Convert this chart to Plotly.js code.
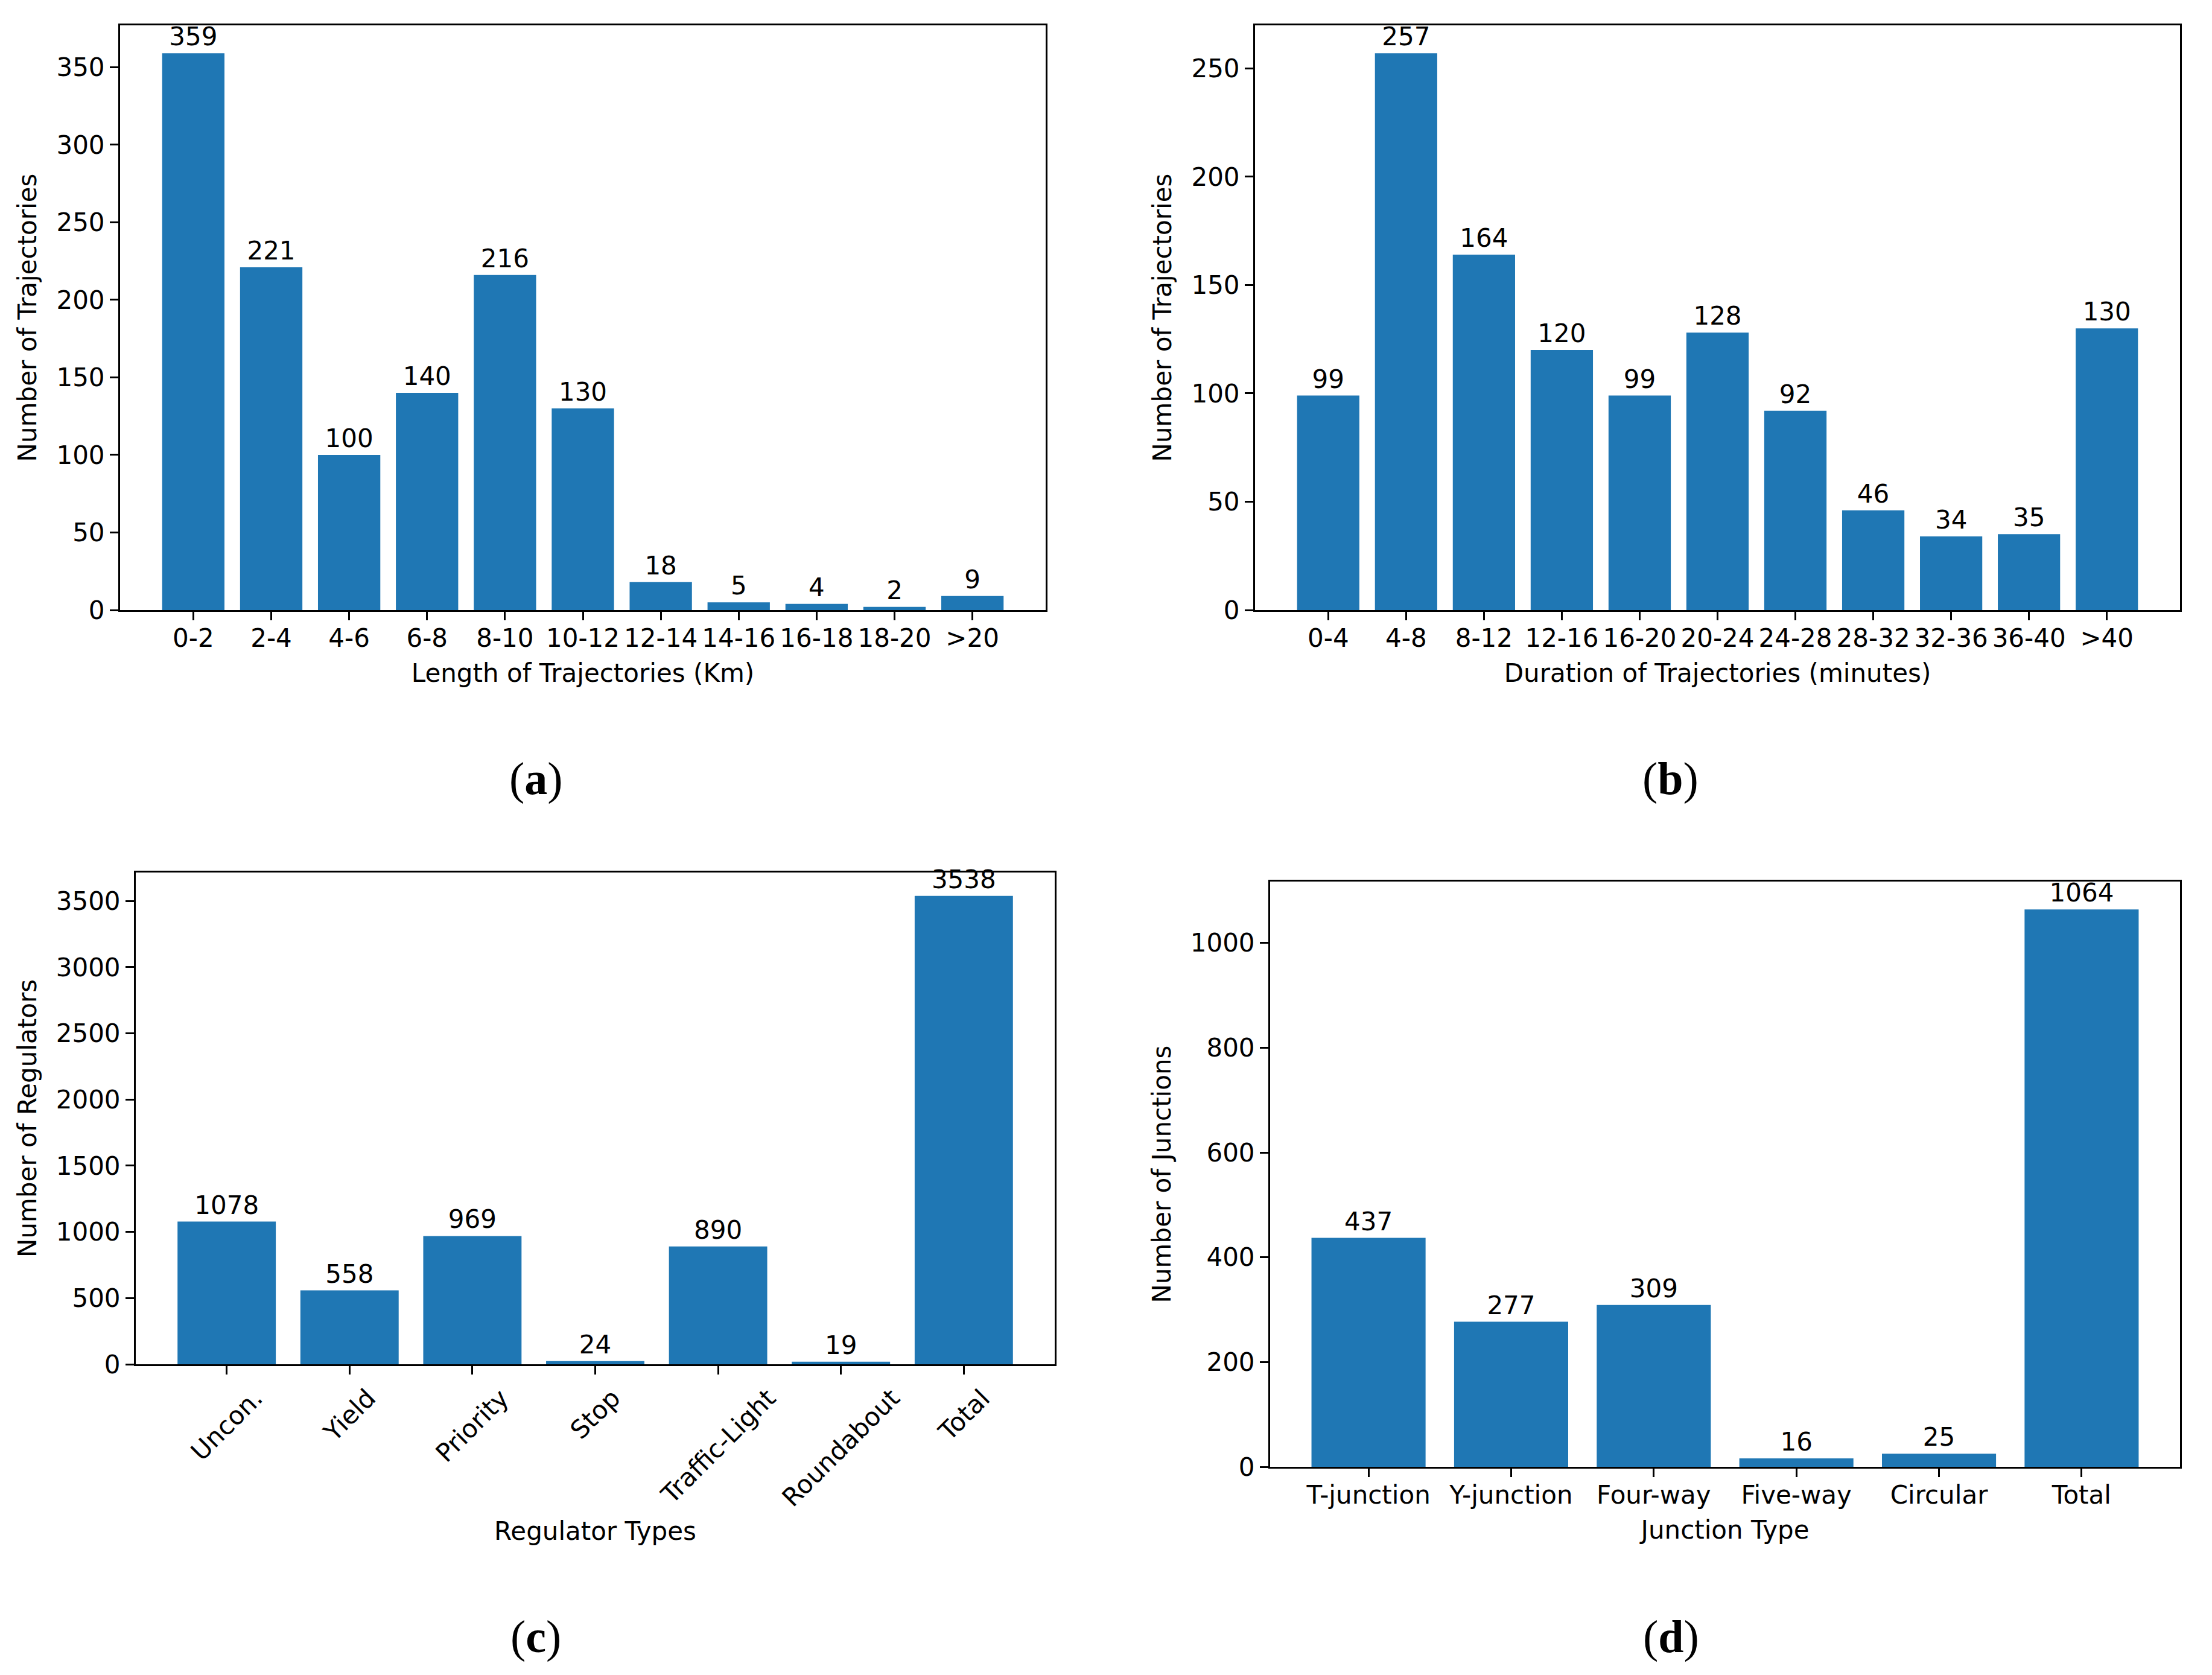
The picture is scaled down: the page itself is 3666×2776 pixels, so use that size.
<!DOCTYPE html>
<html>
<head>
<meta charset="utf-8">
<script src="https://cdn.plot.ly/plotly-3.0.1.min.js"></script>
<style>html,body{margin:0;padding:0;background:#fff;}#chart{width:3666px;height:2776px;}</style>
</head>
<body>
<div id="chart"></div>
<script>
// ---- data ----
const lengthCats = ["0-2","2-4","4-6","6-8","8-10","10-12","12-14","14-16","16-18","18-20",">20"];
const lengthVals = [359,221,100,140,216,130,18,5,4,2,9];
const durationCats = ["0-4","4-8","8-12","12-16","16-20","20-24","24-28","28-32","32-36","36-40",">40"];
const durationVals = [99,257,164,120,99,128,92,46,34,35,130];
const regulatorCats = ["Uncon.","Yield","Priority","Stop","Traffic-Light","Roundabout","Total"];
const regulatorVals = [1078,558,969,24,890,19,3538];
const junctionCats = ["T-junction","Y-junction","Four-way","Five-way","Circular","Total"];
const junctionVals = [437,277,309,16,25,1064];

const FONT = "DejaVu Sans";
const FS = 42;
const BLUE = "#1f77b4";
const W = 3666, H = 2776;

function barTrace(cats, vals, xa, ya) {
  return {
    type: "bar", x: cats, y: vals, xaxis: xa, yaxis: ya,
    width: 0.8,
    marker: {color: BLUE, line: {width: 0}},
    text: vals.map(String), textposition: "outside", cliponaxis: false,
    constraintext: "none",
    textfont: {family: FONT, size: FS, color: "#000"},
    hoverinfo: "skip", showlegend: false
  };
}

const traces = [
  barTrace(lengthCats, lengthVals, "x", "y"),
  barTrace(durationCats, durationVals, "x2", "y2"),
  barTrace(regulatorCats, regulatorVals, "x3", "y3"),
  barTrace(junctionCats, junctionVals, "x4", "y4")
];

function px2x(a, b) { return [a / W, b / W]; }
function px2y(top, bottom) { return [1 - bottom / H, 1 - top / H]; }

function xAxis(domain, n, title, anchor, opts) {
  const o = {
    domain: domain, anchor: anchor, type: "category",
    range: [-0.4 - 0.05 * (n - 0.2), n - 0.6 + 0.05 * (n - 0.2)],
    showline: true, mirror: true, linewidth: 3, linecolor: "#000",
    ticks: "outside", ticklen: 14, tickwidth: 3, tickcolor: "#000",
    ticklabelstandoff: -6,
    showgrid: false, zeroline: false, fixedrange: true,
    tickfont: {family: FONT, size: FS, color: "#000"},
    title: {text: title, font: {family: FONT, size: FS, color: "#000"}, standoff: 20}
  };
  return Object.assign(o, opts || {});
}
function yAxis(domain, maxV, dtick, title, anchor) {
  return {
    domain: domain, anchor: anchor, range: [0, maxV * 1.05], dtick: dtick, tick0: 0,
    showline: true, mirror: true, linewidth: 3, linecolor: "#000",
    ticks: "outside", ticklen: 14, tickwidth: 3, tickcolor: "#000",
    showgrid: false, zeroline: false, fixedrange: true,
    tickfont: {family: FONT, size: FS, color: "#000"},
    title: {text: title, font: {family: FONT, size: FS, color: "#000"}, standoff: 20}
  };
}

const annotations = [];
// rotated tick labels for panel (c)
regulatorCats.forEach(function (c) {
  annotations.push({
    x: c, xref: "x3", y: 1 - 2290 / H, yref: "paper",
    text: c, textangle: -45, showarrow: false,
    xanchor: "center", yanchor: "top",
    font: {family: FONT, size: FS, color: "#000"}
  });
});
// panel letters
const letters = [["a", 888, 1290], ["b", 2768, 1290], ["c", 888, 2712], ["d", 2769, 2712]];
letters.forEach(function (l) {
  annotations.push({
    x: l[1] / W, y: 1 - l[2] / H, xref: "paper", yref: "paper",
    text: "(<b>" + l[0] + "</b>)", showarrow: false,
    xanchor: "center", yanchor: "middle",
    font: {family: "Liberation Serif", size: 76, color: "#000"}
  });
});

const layout = {
  width: W, height: H,
  margin: {l: 0, r: 0, t: 0, b: 0},
  paper_bgcolor: "#fff", plot_bgcolor: "#fff",
  showlegend: false,
  xaxis: xAxis(px2x(199, 1733), 11, "Length of Trajectories (Km)", "y"),
  yaxis: yAxis(px2y(42, 1011), 359, 50, "Number of Trajectories", "x"),
  xaxis2: xAxis(px2x(2080, 3613), 11, "Duration of Trajectories (minutes)", "y2"),
  yaxis2: yAxis(px2y(42, 1011), 257, 50, "Number of Trajectories", "x2"),
  xaxis3: xAxis(px2x(225, 1748), 7, "Regulator Types", "y3", {showticklabels: false}),
  yaxis3: yAxis(px2y(1446, 2261), 3538, 500, "Number of Regulators", "x3"),
  xaxis4: xAxis(px2x(2105, 3613), 6, "Junction Type", "y4"),
  yaxis4: yAxis(px2y(1461, 2431), 1064, 200, "Number of Junctions", "x4"),
  annotations: annotations
};
layout.xaxis3.title.standoff = 246;

Plotly.newPlot("chart", traces, layout, {staticPlot: true, displayModeBar: false});
</script>
</body>
</html>
